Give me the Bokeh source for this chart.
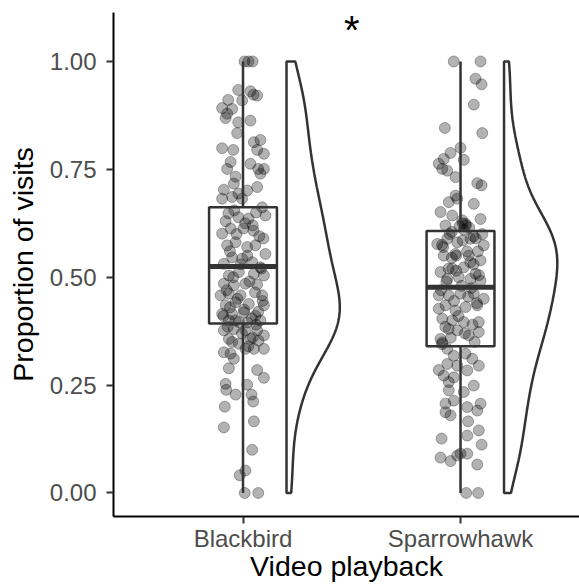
import numpy as np
from bokeh.plotting import figure
from bokeh.models import Range1d, FixedTicker
from bokeh.core.properties import value
from bokeh.embed import file_html
from bokeh.resources import INLINE

# ---------------- data ----------------
categories = ["Blackbird", "Sparrowhawk"]
y_ticks = [0.0, 0.25, 0.5, 0.75, 1.0]
y_tick_labels = ["0.00", "0.25", "0.50", "0.75", "1.00"]

# box statistics: lower whisker, Q1, median, Q3, upper whisker
box_lo = [0.0, 0.0]
box_q1 = [0.393, 0.340]
box_med = [0.525, 0.477]
box_q3 = [0.662, 0.607]
box_hi = [1.0, 1.0]

blackbird_values = [
    1.0, 1.0, 1.0, 0.934, 0.931, 0.921, 0.923, 0.911, 0.910, 0.892, 0.890, 0.879,
    0.869, 0.859, 0.863, 0.834, 0.799, 0.795, 0.813, 0.818, 0.795, 0.786, 0.767,
    0.751, 0.763, 0.751, 0.751, 0.740, 0.733, 0.717, 0.703, 0.701, 0.709, 0.694,
    0.682, 0.686, 0.682, 0.662, 0.643, 0.648, 0.639, 0.636, 0.601, 0.613, 0.613,
    0.608, 0.590, 0.574, 0.581, 0.570, 0.574, 0.554, 0.546, 0.543, 0.531, 0.535,
    0.523, 0.504, 0.512, 0.508, 0.504, 0.485, 0.481, 0.485, 0.483, 0.458, 0.462,
    0.458, 0.458, 0.435, 0.442, 0.438, 0.435, 0.415, 0.415, 0.419, 0.411, 0.400,
    0.396, 0.400, 0.377, 0.380, 0.377, 0.377, 0.365, 0.357, 0.357, 0.326, 0.323,
    0.311, 0.334, 0.334, 0.334, 0.346, 0.353, 0.289, 0.285, 0.267, 0.253, 0.239,
    0.228, 0.251, 0.228, 0.212, 0.200, 0.152, 0.166, 0.100, 0.052, 0.041, 0.0, 0.0,
    0.655, 0.650, 0.630, 0.625, 0.620, 0.600, 0.595, 0.560, 0.550, 0.530, 0.520,
    0.500, 0.490, 0.470, 0.465, 0.450, 0.445, 0.430, 0.425, 0.420, 0.410, 0.405,
    0.400, 0.395, 0.390, 0.385, 0.370, 0.360, 0.350, 0.340,
]
blackbird_jitter = [
    0.007, 0.025, 0.044, -0.022, 0.034, 0.065, 0.048, -0.068, -0.004, -0.096, -0.050,
    -0.073, -0.080, -0.022, 0.034, -0.027, -0.096, -0.045, 0.050, 0.080, 0.065, 0.096,
    -0.057, -0.073, 0.034, 0.070, 0.096, 0.080, -0.034, -0.042, -0.088, 0.019, 0.065,
    -0.021, -0.096, -0.050, -0.004, 0.088, 0.103, -0.067, -0.021, 0.025, -0.096,
    -0.057, 0.002, 0.048, 0.094, -0.073, -0.034, 0.019, 0.057, 0.103, -0.050, -0.004,
    -0.088, 0.042, 0.080, -0.065, -0.019, 0.050, 0.096, -0.088, -0.042, 0.011, 0.065,
    -0.103, -0.065, -0.011, 0.088, -0.080, -0.034, 0.027, 0.096, -0.096, -0.050, 0.004,
    0.057, -0.065, -0.019, 0.080, -0.088, -0.042, 0.011, 0.065, 0.096, -0.065, 0.034,
    -0.088, -0.057, -0.042, 0.011, 0.050, 0.096, -0.019, 0.071, -0.065, 0.065, 0.096,
    -0.080, -0.077, -0.034, 0.019, 0.039, 0.047, -0.084, -0.088, 0.050, 0.042, 0.011,
    -0.015, 0.008, 0.070,
    -0.040, 0.060, -0.080, 0.010, 0.045, -0.030, 0.075, -0.060, 0.020, -0.010, 0.085,
    -0.045, 0.030, -0.075, 0.055, -0.025, 0.090, -0.060, 0.005, 0.070, -0.090, 0.040,
    -0.035, 0.020, 0.060, -0.070, -0.005, 0.045, -0.050, 0.025,
]

sparrowhawk_values = [
    1.0, 1.0, 0.960, 0.947, 0.900, 0.846, 0.834, 0.800, 0.788, 0.772, 0.774, 0.763,
    0.751, 0.747, 0.732, 0.718, 0.713, 0.689, 0.674, 0.682, 0.670, 0.651, 0.643,
    0.624, 0.632, 0.635, 0.620, 0.600, 0.577, 0.589, 0.581, 0.589, 0.574, 0.550,
    0.554, 0.550, 0.539, 0.512, 0.520, 0.523, 0.508, 0.496, 0.500, 0.496, 0.492,
    0.458, 0.458, 0.462, 0.462, 0.450, 0.427, 0.435, 0.423, 0.431, 0.435, 0.404,
    0.400, 0.396, 0.396, 0.380, 0.377, 0.365, 0.373, 0.357, 0.349, 0.334, 0.323,
    0.311, 0.295, 0.318, 0.285, 0.299, 0.295, 0.284, 0.272, 0.257, 0.268, 0.234,
    0.238, 0.249, 0.207, 0.214, 0.199, 0.191, 0.207, 0.187, 0.180, 0.166, 0.145,
    0.133, 0.112, 0.126, 0.082, 0.074, 0.091, 0.091, 0.087, 0.066, 0.0, 0.0,
    0.625, 0.620, 0.618, 0.615, 0.610, 0.600, 0.590, 0.570, 0.560, 0.545, 0.530,
    0.515, 0.505, 0.490, 0.480, 0.475, 0.470, 0.455, 0.445, 0.440, 0.410, 0.390,
    0.385, 0.370, 0.360, 0.350, 0.345,
    0.520, 0.535, 0.550, 0.560, 0.575, 0.585, 0.595, 0.605,
]
sparrowhawk_jitter = [
    -0.031, 0.092, 0.069, 0.097, 0.061, -0.072, 0.100, 0.000, -0.046, 0.015, -0.077,
    -0.100, -0.084, -0.061, -0.023, 0.077, 0.097, -0.023, -0.054, -0.015, 0.061,
    -0.092, -0.038, 0.023, 0.008, 0.092, -0.069, 0.100, -0.107, -0.061, -0.015, 0.046,
    0.107, -0.077, -0.023, 0.038, 0.092, -0.092, -0.038, 0.015, 0.069, -0.061, -0.008,
    0.046, 0.092, -0.100, -0.054, 0.000, 0.061, 0.107, -0.100, -0.069, -0.023, 0.023,
    0.077, -0.084, -0.038, 0.015, 0.084, -0.054, -0.015, 0.038, 0.084, -0.092, -0.084,
    -0.061, 0.023, 0.054, 0.084, -0.031, -0.100, -0.061, -0.015, 0.031, -0.077,
    -0.054, -0.031, 0.015, -0.054, 0.061, -0.069, -0.031, 0.031, 0.077, 0.092, -0.069,
    -0.046, 0.035, 0.084, 0.031, 0.097, -0.087, -0.092, -0.046, 0.000, 0.031, -0.015,
    0.077, 0.026, 0.081,
    0.010, 0.025, -0.005, 0.040, 0.015, -0.050, 0.070, -0.080, 0.030, -0.040, 0.060,
    -0.020, 0.085, -0.065, 0.005, 0.050, -0.090, 0.035, -0.030, 0.075, -0.010, 0.055,
    -0.070, 0.020, -0.045, 0.065, -0.085,
    -0.055, 0.045, -0.020, 0.080, -0.085, 0.010, 0.060, -0.040,
]

group_values = [blackbird_values, sparrowhawk_values]
group_jitter = [blackbird_jitter, sparrowhawk_jitter]

# ---------------- layout constants ----------------
FONT = "Liberation Sans"
DARK = "#333333"
box_half = 0.156
violin_offset = 0.2
violin_width = 0.245


def kde_nrd0(vals, grid):
    v = np.asarray(vals, dtype=float)
    n = v.size
    sd = v.std(ddof=1)
    iqr = np.percentile(v, 75) - np.percentile(v, 25)
    bw = 0.9 * min(sd, iqr / 1.34) * n ** (-0.2)
    z = (grid[:, None] - v[None, :]) / bw
    return np.exp(-0.5 * z ** 2).sum(axis=1) / (n * bw * np.sqrt(2 * np.pi))


p = figure(
    width=579, height=586,
    output_backend="svg", toolbar_location=None,
    x_range=Range1d(0.4046, 2.547), y_range=Range1d(-0.0545, 1.1135),
    min_border_left=113, min_border_right=0, min_border_top=12, min_border_bottom=70,
    background_fill_color="white", border_fill_color="white",
)
p.outline_line_color = None
p.xgrid.visible = False
p.ygrid.visible = False

positions = [i + 1 for i in range(len(categories))]

# jittered points
for pos, vals, jit in zip(positions, group_values, group_jitter):
    xs = [pos + j for j in jit]
    p.scatter(xs, vals, marker="circle", size=11,
              fill_color="black", fill_alpha=0.3,
              line_color="black", line_alpha=0.3, line_width=1)

# boxplots
p.segment(x0=positions, x1=positions, y0=box_lo, y1=box_q1, line_color=DARK, line_width=2.5)
p.segment(x0=positions, x1=positions, y0=box_q3, y1=box_hi, line_color=DARK, line_width=2.5)
p.quad(left=[x - box_half for x in positions], right=[x + box_half for x in positions],
       bottom=box_q1, top=box_q3, fill_color=None, line_color=DARK, line_width=2.5)
p.segment(x0=[x - box_half for x in positions], x1=[x + box_half for x in positions],
          y0=box_med, y1=box_med, line_color=DARK, line_width=5)

# half violins
for pos, vals in zip(positions, group_values):
    grid = np.linspace(min(vals), max(vals), 512)
    dens = kde_nrd0(vals, grid)
    base = pos + violin_offset
    xs = np.concatenate([[base], base + violin_width * dens / dens.max(), [base]])
    ys = np.concatenate([[grid[0]], grid, [grid[-1]]])
    p.patch(xs, ys, fill_color=None, line_color=DARK, line_width=2.5)

# significance mark
p.text(x=[1.5], y=[1.072], text=["*"], text_font=value(FONT), text_font_size="40px",
       text_align="center", text_baseline="alphabetic", text_color="black")

# axes
p.xaxis.ticker = FixedTicker(ticks=positions)
p.xaxis.major_label_overrides = {pos: name for pos, name in zip(positions, categories)}
p.yaxis.ticker = FixedTicker(ticks=y_ticks)
p.yaxis.major_label_overrides = {t: lab for t, lab in zip(y_ticks, y_tick_labels)}
p.xaxis.axis_label = "Video playback"
p.yaxis.axis_label = "Proportion of visits"

for ax in (p.xaxis, p.yaxis):
    ax.axis_line_color = "black"
    ax.axis_line_width = 2
    ax.major_tick_line_color = DARK
    ax.major_tick_line_width = 2
    ax.major_tick_out = 7
    ax.major_tick_in = 0
    ax.minor_tick_line_color = None
    ax.major_label_text_font = FONT
    ax.major_label_text_font_size = "24px"
    ax.major_label_text_color = "#4D4D4D"
    ax.axis_label_text_font = FONT
    ax.axis_label_text_font_size = "28.5px"
    ax.axis_label_text_font_style = "normal"
    ax.axis_label_text_color = "black"

p.xaxis.major_label_standoff = 1
p.xaxis.axis_label_standoff = -5
p.yaxis.major_label_standoff = 10
p.yaxis.axis_label_standoff = 8

open("out.html", "w").write(file_html(p, INLINE))
